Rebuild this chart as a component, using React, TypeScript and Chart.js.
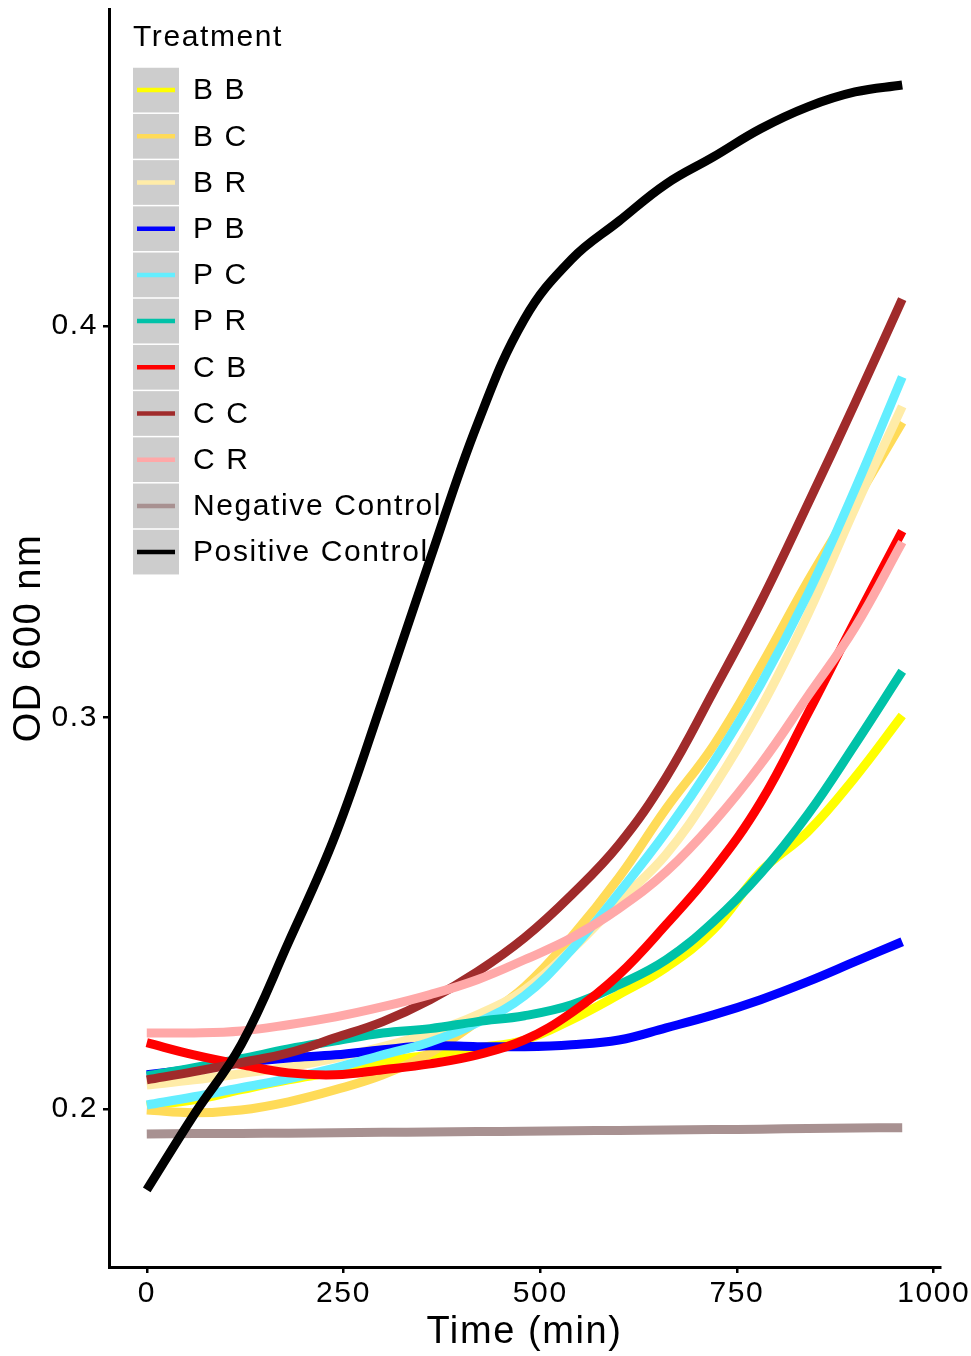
import React, { useEffect, useRef } from "react";
import { Chart, registerables } from "chart.js";

Chart.register(...registerables);

// ---- data ----
const TIME_MIN = [0, 60, 120, 180, 240, 300, 360, 420, 480, 540, 600, 660, 720, 780, 840, 900, 960];

const TREATMENTS = ["B B", "B C", "B R", "P B", "P C", "P R", "C B", "C C", "C R", "Negative Control", "Positive Control"];

const BB = [0.2008, 0.2023, 0.2049, 0.2074, 0.2095, 0.2120, 0.2138, 0.2156, 0.2176, 0.2228, 0.2292, 0.2361, 0.2458, 0.2606, 0.2708, 0.2847, 0.3005];
const BC = [0.1997, 0.1990, 0.1997, 0.2018, 0.2049, 0.2087, 0.2143, 0.2223, 0.2312, 0.2440, 0.2591, 0.2767, 0.2928, 0.3130, 0.3348, 0.3550, 0.3754];
const BR = [0.2061, 0.2074, 0.2090, 0.2107, 0.2130, 0.2159, 0.2194, 0.2240, 0.2304, 0.2407, 0.2529, 0.2650, 0.2821, 0.3023, 0.3263, 0.3535, 0.3795];
const PB = [0.2087, 0.2102, 0.2118, 0.2130, 0.2138, 0.2151, 0.2161, 0.2159, 0.2159, 0.2164, 0.2176, 0.2207, 0.2240, 0.2279, 0.2325, 0.2376, 0.2427];
const PC = [0.2010, 0.2031, 0.2054, 0.2077, 0.2105, 0.2138, 0.2171, 0.2220, 0.2289, 0.2407, 0.2552, 0.2708, 0.2885, 0.3084, 0.3315, 0.3583, 0.3870];
const PR = [0.2084, 0.2105, 0.2128, 0.2153, 0.2174, 0.2194, 0.2205, 0.2223, 0.2238, 0.2266, 0.2317, 0.2381, 0.2478, 0.2601, 0.2752, 0.2931, 0.3118];
const CB = [0.2169, 0.2138, 0.2113, 0.2092, 0.2087, 0.2100, 0.2115, 0.2138, 0.2176, 0.2246, 0.2343, 0.2471, 0.2611, 0.2783, 0.3010, 0.3246, 0.3476];
const CC = [0.2074, 0.2095, 0.2118, 0.2143, 0.2182, 0.2223, 0.2279, 0.2350, 0.2437, 0.2547, 0.2675, 0.2847, 0.3066, 0.3294, 0.3545, 0.3803, 0.4069];
const CR = [0.2194, 0.2194, 0.2199, 0.2215, 0.2235, 0.2261, 0.2292, 0.2330, 0.2381, 0.2437, 0.2512, 0.2606, 0.2731, 0.2880, 0.3054, 0.3230, 0.3448];
const NEG = [0.1936, 0.1937, 0.1937, 0.1938, 0.1939, 0.1940, 0.1941, 0.1942, 0.1943, 0.1944, 0.1945, 0.1946, 0.1947, 0.1948, 0.1950, 0.1951, 0.1952];
const POS = [0.1793, 0.1985, 0.2164, 0.2425, 0.2701, 0.3046, 0.3404, 0.3749, 0.4018, 0.4171, 0.4268, 0.4363, 0.4432, 0.4504, 0.4560, 0.4598, 0.4616];

const SERIES = [BB, BC, BR, PB, PC, PR, CB, CC, CR, NEG, POS];

const COLORS = ["#FFFF00", "#FFDB58", "#FFECA8", "#0000FF", "#63EEFF", "#00C2A8", "#FF0000", "#A02B2B", "#FFA8A8", "#A89191", "#000000"];

const X_TICKS = [0, 250, 500, 750, 1000];
const Y_TICKS = [0.2, 0.3, 0.4];

const X_TITLE = "Time (min)";
const Y_TITLE = "OD 600 nm";
const LEGEND_TITLE = "Treatment";

const FONT = '"Liberation Sans", Arial, Helvetica, sans-serif';
const SPACING = "1.6px";

const spacingPlugin = {
  id: "letterSpacing",
  beforeInit(chart: any) {
    chart.ctx.letterSpacing = SPACING;
  },
  beforeDraw(chart: any) {
    chart.ctx.letterSpacing = SPACING;
  },
};

const legendPlugin = {
  id: "ggLegend",
  afterDatasetsDraw(chart: any) {
    const ctx = chart.ctx;
    ctx.save();
    ctx.letterSpacing = SPACING;
    const x0 = 133;
    const rowTop = 67;
    const rowH = 46.2;
    const keyW = 46;
    ctx.textAlign = "left";
    ctx.textBaseline = "middle";
    ctx.fillStyle = "#000";
    ctx.font = `30px ${FONT}`;
    ctx.fillText(LEGEND_TITLE, x0, 38);
    chart.data.datasets.forEach((ds: any, i: number) => {
      const top = rowTop + i * rowH;
      ctx.fillStyle = "#CDCDCD";
      ctx.fillRect(x0, top + 0.75, keyW, rowH - 1.5);
      ctx.strokeStyle = ds.borderColor;
      ctx.lineWidth = 4.5;
      ctx.lineCap = "butt";
      ctx.beginPath();
      ctx.moveTo(x0 + 4, top + rowH / 2);
      ctx.lineTo(x0 + keyW - 4, top + rowH / 2);
      ctx.stroke();
      ctx.fillStyle = "#000";
      ctx.font = `30px ${FONT}`;
      ctx.fillText(ds.label, 193, top + rowH / 2 + 1);
    });
    ctx.restore();
  },
};

export default function App() {
  const ref = useRef<HTMLCanvasElement | null>(null);

  useEffect(() => {
    document.body.style.margin = "0";
    const canvas = ref.current;
    if (!canvas) return;
    const datasets = TREATMENTS.map((name, i) => ({
      label: name,
      data: TIME_MIN.map((t, j) => ({ x: t, y: SERIES[i][j] })),
      borderColor: COLORS[i],
      backgroundColor: COLORS[i],
      borderWidth: 9,
      pointRadius: 0,
      fill: false,
      tension: 0.4,
      borderCapStyle: "butt" as const,
      borderJoinStyle: "round" as const,
      order: TREATMENTS.length - i,
    }));

    const chart = new Chart(canvas, {
      type: "line",
      data: { datasets },
      plugins: [spacingPlugin, legendPlugin],
      options: {
        animation: false,
        responsive: false,
        maintainAspectRatio: false,
        layout: { padding: { left: 0, right: 31, top: 9, bottom: 0 } },
        plugins: {
          legend: { display: false },
          tooltip: { enabled: false },
          title: { display: false },
        },
        scales: {
          x: {
            type: "linear",
            min: -48,
            max: 1008,
            afterBuildTicks: (scale: any) => {
              scale.ticks = X_TICKS.map((v) => ({ value: v }));
            },
            afterFit: (scale: any) => {
              scale.height = 89;
              scale.paddingLeft = 0;
              scale.paddingRight = 0;
            },
            grid: {
              display: true,
              drawOnChartArea: false,
              drawTicks: true,
              tickLength: 6,
              color: "#000",
              lineWidth: 2.5,
            },
            border: { display: true, color: "#000", width: 3 },
            ticks: {
              color: "#000",
              font: { family: FONT, size: 30 },
              padding: 3,
              maxRotation: 0,
              autoSkip: false,
              callback: (v: any) => String(v),
            },
            title: {
              display: true,
              text: X_TITLE,
              color: "#000",
              font: { family: FONT, size: 38 },
              padding: { top: 0, bottom: 1 },
            },
          },
          y: {
            type: "linear",
            min: 0.1596,
            max: 0.481,
            afterBuildTicks: (scale: any) => {
              scale.ticks = Y_TICKS.map((v) => ({ value: v }));
            },
            afterFit: (scale: any) => {
              scale.width = 109;
              scale.paddingTop = 0;
              scale.paddingBottom = 0;
            },
            grid: {
              display: true,
              drawOnChartArea: false,
              drawTicks: true,
              tickLength: 6,
              color: "#000",
              lineWidth: 2.5,
            },
            border: { display: true, color: "#000", width: 3 },
            ticks: {
              color: "#000",
              font: { family: FONT, size: 30 },
              padding: 5,
              autoSkip: false,
              callback: (v: any) => Number(v).toFixed(1),
            },
            title: {
              display: true,
              text: Y_TITLE,
              color: "#000",
              font: { family: FONT, size: 38 },
              padding: { top: 7, bottom: 0 },
            },
          },
        },
      },
    });
    return () => chart.destroy();
  }, []);

  return (
    <div style={{ width: 971, height: 1356, background: "#fff" }}>
      <canvas ref={ref} width={971} height={1356} style={{ display: "block", width: 971, height: 1356 }} />
    </div>
  );
}
